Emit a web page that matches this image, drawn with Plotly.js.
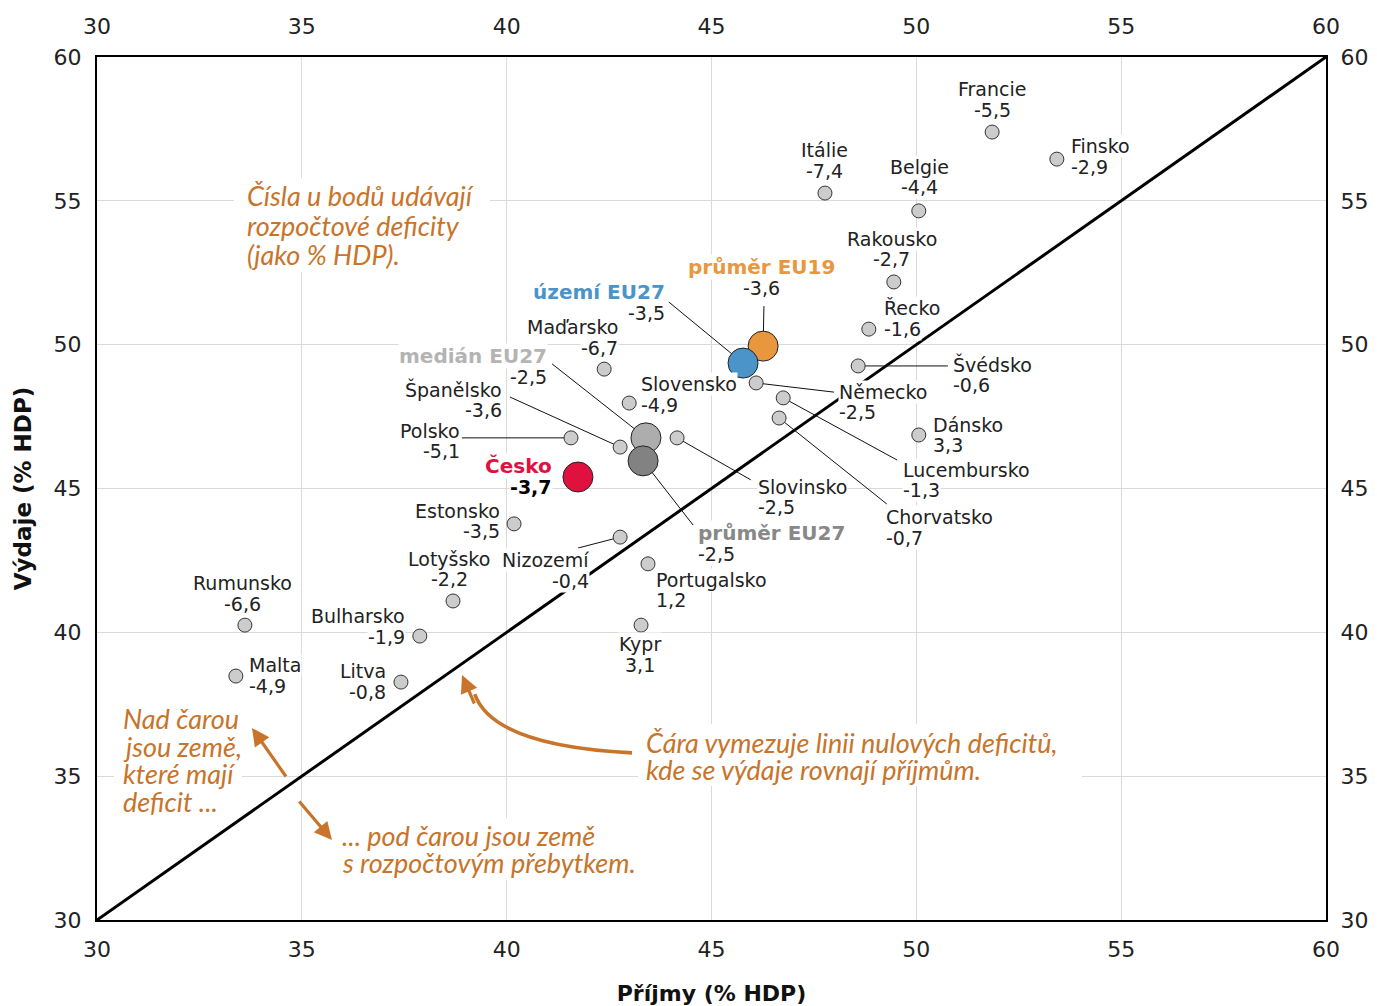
<!DOCTYPE html>
<html>
<head>
<meta charset="utf-8">
<script src="https://cdn.plot.ly/plotly-3.0.1.min.js"></script>
<style>html,body{margin:0;padding:0;background:#fff;}#chart{width:1377px;height:1006px;}</style>
</head>
<body>
<div id="chart"></div>
<script>
// ---------- DATA ----------
const countries = ['Francie','Finsko','Itálie','Belgie','Rakousko','Řecko','Švédsko','Dánsko','Německo','Lucembursko','Chorvatsko','Slovinsko','Portugalsko','Kypr','Nizozemí','Lotyšsko','Estonsko','Bulharsko','Litva','Rumunsko','Malta','Polsko','Španělsko','Maďarsko','Slovensko'];
const income  = [51.85,53.43,47.77,50.06,49.45,48.84,48.58,50.06,46.09,46.75,46.65,44.16,43.45,43.28,42.77,38.69,40.18,37.88,37.42,33.61,33.39,41.57,42.77,42.38,42.99];
const expend  = [57.39,56.45,55.27,54.65,52.18,50.54,49.26,46.86,48.67,48.15,47.45,46.76,42.38,40.25,43.31,41.09,43.77,39.87,38.27,40.25,38.48,46.76,46.44,49.15,47.97];
const deficit = [-5.5,-2.9,-7.4,-4.4,-2.7,-1.6,-0.6,3.3,-2.5,-1.3,-0.7,-2.5,1.2,3.1,-0.4,-2.2,-3.5,-1.9,-0.8,-6.6,-4.9,-5.1,-3.6,-6.7,-4.9];

const aggNames   = ['průměr EU19','území EU27','medián EU27','průměr EU27','Česko'];
const aggIncome  = [46.26,45.77,43.40,43.33,41.74];
const aggExpend  = [49.95,49.36,46.76,45.96,45.40];
const aggDeficit = [-3.6,-3.5,-2.5,-2.5,-3.7];

const diagX = [30,60];
const diagY = [30,60];
const tickVals = [30,35,40,45,50,55,60];

// ---------- STYLE / PLACEMENT ----------
const aggColors = ['#E8973F','#4A94CA','#ADADAD','#828282','#E0103F'];
const aggTextColors = ['#E8973F','#4A94CA','#B4B4B4','#888888','#E0103F'];
// label placement: [dx px, dy px (name line centre), anchor]
const place = {
 'Francie':[0,-43,'center'],'Finsko':[13,-13,'left'],'Itálie':[0,-43,'center'],'Belgie':[1,-44,'center'],
 'Rakousko':[-2,-43,'center'],'Řecko':[14,-21,'left'],'Švédsko':[94,-1,'left'],'Dánsko':[13,-10,'left'],
 'Německo':[82,9,'left'],'Lucembursko':[119,72,'left'],'Chorvatsko':[106,99,'left'],'Slovinsko':[80,49,'left'],
 'Portugalsko':[7,16,'left'],'Kypr':[-1,19,'center'],'Nizozemí':[-30,23,'right'],'Lotyšsko':[-4,-42,'center'],
 'Estonsko':[-13,-13,'right'],'Bulharsko':[-14,-20,'right'],'Litva':[-14,-11,'right'],'Rumunsko':[-2,-42,'center'],
 'Malta':[12,-11,'left'],'Polsko':[-110,-7,'right'],'Španělsko':[-117,-58,'right'],'Maďarsko':[15,-42,'right'],
 'Slovensko':[11,-19,'left'],
 'průměr EU19':[-2,-79,'center'],'území EU27':[-77,-71,'right'],'medián EU27':[-98,-82,'right'],
 'průměr EU27':[54,72,'left'],'Česko':[-25,-11,'right']
};
// leader lines: label-side endpoint (data units) for labels with connectors
const leaders = {
 'území EU27':[43.96,51.48],'průměr EU19':[46.28,51.34],'medián EU27':[41.11,49.33],'Španělsko':[40.08,48.18],
 'Polsko':[38.91,46.76],'Slovinsko':[45.96,45.30],'průměr EU27':[44.55,43.73],'Nizozemí':[41.74,42.93],
 'Německo':[47.99,48.35],'Lucembursko':[49.53,45.99],'Chorvatsko':[49.28,44.46],'Švédsko':[50.77,49.26]
};

const FONT = 'DejaVu Sans, Inter, sans-serif';
const HAND = 'Lato, Open Sans, sans-serif';
const ORANGE = '#C8742A';
const fmt = v => (v<0?'-':'') + Math.abs(v).toFixed(1).replace('.',',');

// ---------- TRACES ----------
const allNames = countries.concat(aggNames);
const allX = income.concat(aggIncome);
const allY = expend.concat(aggExpend);
const lx = [], ly = [];
allNames.forEach((n,i)=>{ if(leaders[n]){ lx.push(leaders[n][0], allX[i], null); ly.push(leaders[n][1], allY[i], null);} });

const traces = [
 {x: diagX, y: diagY, mode:'lines', line:{color:'#000', width:3}, hoverinfo:'skip', showlegend:false},
 {x: lx, y: ly, mode:'lines', line:{color:'#111', width:1}, hoverinfo:'skip', showlegend:false},
 {x: income, y: expend, mode:'markers', marker:{size:14, color:'#CCCCCC', line:{color:'#333', width:1}}, text: countries, hoverinfo:'text', showlegend:false}
];
aggNames.forEach((n,i)=>{
 traces.push({x:[aggIncome[i]], y:[aggExpend[i]], mode:'markers', marker:{size:30, color:aggColors[i], line:{color:'#222', width:1}}, name:n, showlegend:false});
});
traces.push({x:[30], y:[30], xaxis:'x2', yaxis:'y2', mode:'markers', marker:{opacity:0}, hoverinfo:'skip', showlegend:false});

// ---------- ANNOTATIONS ----------
const valAnn = [], nameAnn = [];
function label(i, isAgg){
 const n = allNames[i], p = place[n];
 const base = {x: allX[i], y: allY[i], xref:'x', yref:'y', showarrow:false, xanchor:p[2], yanchor:'middle', bgcolor:'#fff', borderpad:0};
 let nameFont = {family:FONT, size:19, color:'#222'};
 let valFont = {family:FONT, size:19, color:'#222'};
 let nameText = n, gap = 20.5;
 if(isAgg){
  const k = i - countries.length;
  nameFont = {family:FONT, size:20, color:aggTextColors[k]};
  nameText = '<b>'+n+'</b>';
  gap = 21;
  if(n==='Česko'){ valFont = {family:FONT, size:19, color:'#000'}; }
 }
 const d = isAgg ? aggDeficit[i-countries.length] : deficit[i];
 let valText = fmt(d);
 if(n==='Česko') valText = '<b>'+valText+'</b>';
 nameAnn.push(Object.assign({}, base, {text:nameText, font:nameFont, xshift:p[0], yshift:-p[1]}));
 valAnn.push(Object.assign({}, base, {text:valText, font:valFont, xshift:p[0], yshift:-(p[1]+gap)}));
}
allNames.forEach((n,i)=>label(i, i>=countries.length));
const ann = valAnn.concat(nameAnn);

// handwritten notes (pixel positions converted to paper coords)
const px2paperX = px => (px-97)/1229;
const px2paperY = py => (920-py)/863;
const shapes = [];
function note(lines, left, tops, box){
 shapes.push({type:'rect', xref:'paper', yref:'paper', x0:px2paperX(box[0]), x1:px2paperX(box[1]), y0:px2paperY(box[3]), y1:px2paperY(box[2]),
   fillcolor:'#fff', line:{width:0}, layer:'above'});
 lines.forEach((t,j)=>{
  ann.push({text:t, xref:'paper', yref:'paper', x:px2paperX(left), y:px2paperY(tops[j]), xanchor:'left', yanchor:'middle',
   showarrow:false, font:{family:HAND, size:27, color:ORANGE, style:'italic'}});
 });
}
note(['Čísla u bodů udávají','rozpočtové deficity','(jako % HDP).'], 245, [196,226,254], [234,490,178,272]);
note(['Nad čarou','jsou země,','které mají','deficit ...'], 121, [718,746,773,801], [114,242,700,811]);
note(['... pod čarou jsou země','s rozpočtovým přebytkem.'], 340, [835,862], [334,652,818,880]);
note(['Čára vymezuje linii nulových deficitů,','kde se výdaje rovnají příjmům.'], 644, [742,769], [638,1082,724,786]);

// arrows
function arrow(hx, hy, ax, ay){
 ann.push({text:'', xref:'paper', yref:'paper', x:px2paperX(hx), y:px2paperY(hy), ax:ax, ay:ay, showarrow:true,
  arrowhead:2, arrowsize:1.1, arrowwidth:3.2, arrowcolor:ORANGE});
}
arrow(252,728,35,50);
arrow(332,840,-34,-40);
arrow(462,675,13,30);

shapes.push({type:'path', xref:'x', yref:'y', path:'M 43.06,35.81 Q 39.67,36.05 39.22,37.85', line:{color:ORANGE, width:3.6}, layer:'above'});

const axisCommon = {range:[30,60], autorange:false, tickvals:tickVals, ticks:'outside', ticklen:9, tickcolor:'rgba(0,0,0,0)',
 tickfont:{family:FONT, size:22, color:'#222'}, zeroline:false, fixedrange:true};

const layout = {
 width:1377, height:1006,
 margin:{l:97, r:51, t:57, b:86},
 paper_bgcolor:'#fff', plot_bgcolor:'#fff',
 showlegend:false,
 xaxis: Object.assign({}, axisCommon, {showgrid:true, gridcolor:'#DADADA', gridwidth:1, showline:true, linecolor:'#000', linewidth:2, mirror:true,
   title:{text:'<b>Příjmy (% HDP)</b>', font:{family:FONT, size:22, color:'#111'}, standoff:24}}),
 yaxis: Object.assign({}, axisCommon, {showgrid:true, gridcolor:'#DADADA', gridwidth:1, showline:true, linecolor:'#000', linewidth:2, mirror:true,
   title:{text:'<b>Výdaje (% HDP)</b>', font:{family:FONT, size:23, color:'#111'}, standoff:16}}),
 xaxis2: Object.assign({}, axisCommon, {overlaying:'x', side:'top', showgrid:false, anchor:'y2', ticklen:13}),
 yaxis2: Object.assign({}, axisCommon, {overlaying:'y', side:'right', showgrid:false, anchor:'x2'}),
 annotations: ann,
 shapes: shapes
};

Plotly.newPlot('chart', traces, layout, {displayModeBar:false, staticPlot:true});
</script>
</body>
</html>
